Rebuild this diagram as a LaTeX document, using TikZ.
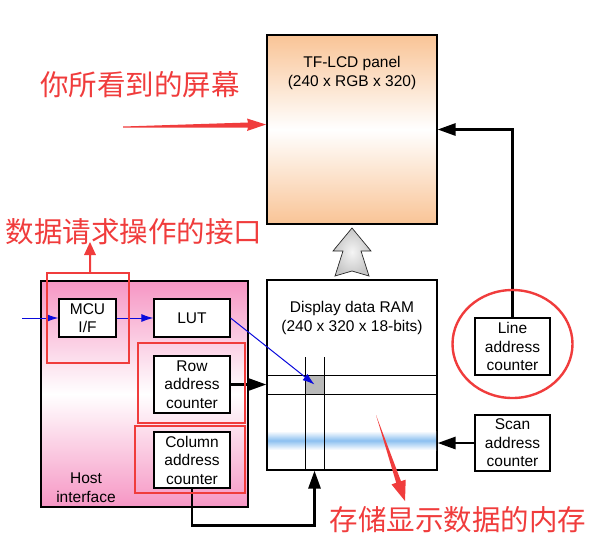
\documentclass[tikz,border=0pt]{standalone}
\usepackage{fontspec}
\setmainfont{Liberation Sans}
\newfontfamily\cjk{Noto Sans CJK SC}
\usetikzlibrary{arrows.meta}
\definecolor{panelorange}{RGB}{249,196,150}
\definecolor{hostpink}{RGB}{246,150,196}
\definecolor{bandblue}{RGB}{140,192,240}
\definecolor{annored}{RGB}{240,60,60}
\definecolor{busblue}{RGB}{10,10,220}
\tikzset{
  unit/.style = {draw, line width=1.2pt, fill=white, align=center, inner sep=0pt,
                 font=\fontsize{15.5}{18.5}\selectfont},
  caption/.style = {align=center, font=\fontsize{15.5}{19}\selectfont},
  bus/.style = {line width=2.8pt, -{Triangle[length=18pt,width=12pt]}},
  ctrl/.style = {busblue, line width=1pt, -{Latex[length=12pt,width=8pt]}},
  note/.style = {annored, font=\cjk\fontsize{28.5}{30}\selectfont},
  redframe/.style = {annored, line width=2.4pt}
}
\begin{document}
\begin{tikzpicture}[x=1pt, y=-1pt]
\useasboundingbox (0,0) rectangle (596,557);

% panel and RAM
\node[draw, line width=1.2pt, minimum width=170pt, minimum height=189pt,
      top color=panelorange, bottom color=panelorange, middle color=white] (lcd) at (352,129.5) {};
\node[caption] (lcdtxt) at (352,72.5) {TF-LCD panel\\(240 x RGB x 320)};
\node[draw, line width=1.2pt, minimum width=170pt, minimum height=190pt, fill=white] (ram) at (352,375) {};
\node[caption] (ramtxt) at (352,317.5) {Display data RAM\\(240 x 320 x 18-bits)};
\shade[top color=white, bottom color=white, middle color=bandblue] (268,431) rectangle (436,450);
\draw[line width=0.8pt] (ram.west |- 0,375) -- (ram.east |- 0,375)
                        (ram.west |- 0,394) -- (ram.east |- 0,394);
\draw[line width=0.8pt] (305,357) -- (305,0 |- ram.south)
                        (324,357) -- (324,0 |- ram.south);
\node[draw, line width=0.8pt, fill=gray!55, minimum size=19pt, inner sep=0pt] (cell) at (314.5,384.5) {};

% big transfer arrow
\shadedraw[inner color=gray!8, outer color=gray!45, draw=black!85, line width=0.7pt]
  (352,228) -- (371,251) -- (361,251) -- (369,276) -- (352,271) -- (335,276) -- (343,251) -- (333,251) -- cycle;

% host interface
\node[draw, line width=1.2pt, minimum width=207pt, minimum height=226pt,
      top color=hostpink, bottom color=hostpink, middle color=white] (host) at (144.5,394) {};
\node[caption] (hosttxt) at (86,487.5) {Host\\interface};
\node[unit, minimum width=57pt, minimum height=38pt] (mcu) at (87.5,318) {MCU\\I/F};
\node[unit, minimum width=76pt, minimum height=38pt] (lut) at (192,318) {LUT};
\node[unit, minimum width=76pt, minimum height=57pt] (row) at (192,384.5) {Row\\address\\counter};
\node[unit, minimum width=76pt, minimum height=56pt] (col) at (192,460) {Column\\address\\counter};

% counters on the right
\node[unit, minimum width=75pt, minimum height=57pt] (line) at (512.5,346.5) {Line\\address\\counter};
\node[unit, minimum width=75pt, minimum height=56pt] (scan) at (512.5,443) {Scan\\address\\counter};

% connectors
\coordinate (in) at (22,318);
\draw[ctrl] (in) -- (mcu.west);
\draw[ctrl] (mcu) -- (lut);
\draw[ctrl] (lut.east) -- (cell.center);
\draw[bus] (row.east) -- (row.east -| ram.west);
\draw[bus] (col.south) -- ++(0,37) -| (cell.center |- ram.south);
\draw[bus] (line.north) |- (lcd.east);
\draw[bus] (scan.west) -- (scan.west -| ram.east);

% annotations
\draw[redframe] (47,273) rectangle (129,363);
\draw[redframe] (138,343) rectangle (245,423);
\draw[redframe] (135,426) rectangle (245,493);
\draw[redframe] (512.5,344) ellipse [x radius=60, y radius=54];
\fill[annored] (89,273) -- (89,255) -- (84,255) -- (90,242) -- (96,255) -- (91,255) -- (91,273) -- cycle;
\fill[annored] (123,126.5) -- (248,122.5) -- (247,118.5) -- (266,124.5) -- (247,131) -- (248,127.5) -- (123,127.5) -- cycle;
\fill[annored] (376,415) -- (401,481.2) -- (405.7,479.6) -- (405,501) -- (391.5,484.4) -- (396.2,482.8) -- cycle;
\node[note] (seen) at (140,85) {你所看到的屏幕};
\node[note] (port) at (134,232) {数据请求操作的接口};
\node[note] (store) at (458,520) {存储显示数据的内存};
\end{tikzpicture}
\end{document}
